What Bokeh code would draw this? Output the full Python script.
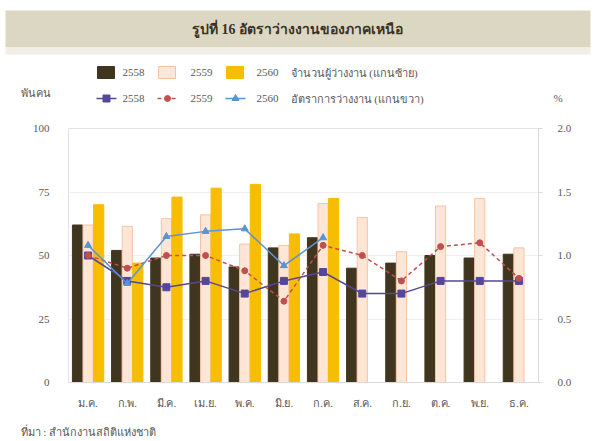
from bokeh.plotting import figure
from bokeh.layouts import column
from bokeh.models import (FactorRange, Range1d, LinearAxis, ColumnDataSource,
                          FixedTicker, NumeralTickFormatter)
from bokeh.core.properties import value
from bokeh.transform import dodge
from bokeh.embed import file_html
from bokeh.resources import INLINE

months = ["ม.ค.", "ก.พ.", "มี.ค.", "เม.ย.", "พ.ค.", "มิ.ย.",
          "ก.ค.", "ส.ค.", "ก.ย.", "ต.ค.", "พ.ย.", "ธ.ค."]

# unemployed persons (thousand) - left axis
emp_2558 = [62, 52, 49, 50.5, 45.5, 53, 57, 45, 47, 50, 49, 50.5]
emp_2559 = [62, 61.5, 64.5, 66, 54.5, 54, 70.5, 65, 51.5, 69.5, 72.5, 53]
emp_2560 = [70, 47, 73, 76.5, 78, 58.5, 72.5]

# unemployment rate (%) - right axis
rate_2558 = [1.0, 0.8, 0.75, 0.8, 0.7, 0.8, 0.87, 0.7, 0.7, 0.8, 0.8, 0.8]
rate_2559 = [1.0, 0.9, 1.0, 1.0, 0.88, 0.64, 1.08, 1.0, 0.8, 1.07, 1.1, 0.82]
rate_2560 = [1.08, 0.78, 1.15, 1.19, 1.21, 0.92, 1.14]

years = ["2558", "2559", "2560"]
left_ticks = [0, 25, 50, 75, 100]
right_ticks = [0, 0.5, 1.0, 1.5, 2.0]

FONT = "Liberation Serif"
TXT = "#595959"
C58 = "#40361f"
C59F = "#fde6d6"
C59L = "#f3c3a5"
C60 = "#f7bd00"
L58 = "#54479a"
L59 = "#c0504d"
L60 = "#5b93d3"
W = 596


def no_align(f):
    if "frame_align" in f.properties():
        f.frame_align = False


def blank(h):
    f = figure(width=W, height=h, x_range=Range1d(0, W), y_range=Range1d(h, 0),
               output_backend="svg", toolbar_location=None,
               x_axis_type=None, y_axis_type=None, min_border=0)
    f.grid.visible = False
    f.outline_line_color = None
    f.background_fill_color = "white"
    f.border_fill_color = "white"
    no_align(f)
    return f


# ---------------- header: title band and legend ----------------
H1 = 120
hd = blank(H1)
hd.quad(left=5, right=590, top=10, bottom=47, fill_color="#dcd7c3", line_color=None)
hd.quad(left=5, right=590, top=47, bottom=54, fill_color="#f1eee6", line_color=None)
hd.text(x=[297], y=[29], text=["รูปที่ 16 อัตราว่างงานของภาคเหนือ"],
        text_align="center", text_baseline="middle", text_font=value(FONT),
        text_font_size="14px", text_font_style="bold", text_color="#3b3222")

row1, row2 = 72, 98
sw_x = [97, 158, 226]
lab_x = [122, 190, 256]
bar_fill = [C58, C59F, C60]
bar_line = [C58, C59L, C60]
for i in range(3):
    hd.quad(left=sw_x[i], right=sw_x[i] + 17, top=row1 - 6, bottom=row1 + 6,
            fill_color=bar_fill[i], line_color=bar_line[i])
    hd.text(x=[lab_x[i]], y=[row1], text=[years[i]], text_baseline="middle",
            text_font=value(FONT), text_font_size="11px", text_color=TXT)
line_cols = [L58, L59, L60]
dashes = ["solid", "4 3", "solid"]
marks = ["square", "circle", "triangle"]
msz = [7, 6, 7]
for i in range(3):
    hd.line(x=[sw_x[i] - 1, sw_x[i] + 19], y=[row2, row2], line_color=line_cols[i],
            line_width=1.5, line_dash=dashes[i])
    hd.scatter(x=[sw_x[i] + 9], y=[row2], marker=marks[i], size=msz[i],
               fill_color=line_cols[i], line_color=line_cols[i])
    hd.text(x=[lab_x[i]], y=[row2], text=[years[i]], text_baseline="middle",
            text_font=value(FONT), text_font_size="11px", text_color=TXT)
hd.text(x=[290, 290], y=[row1, row2],
        text=["จำนวนผู้ว่างงาน (แกนซ้าย)", "อัตราการว่างงาน (แกนขวา)"],
        text_baseline="middle", text_font=value(FONT), text_font_size="11px",
        text_color=TXT)
hd.text(x=[20], y=[92], text=["พันคน"], text_baseline="middle",
        text_font=value(FONT), text_font_size="11px", text_color=TXT)
hd.text(x=[553], y=[97], text=["%"], text_baseline="middle",
        text_font=value(FONT), text_font_size="11px", text_color=TXT)

# ---------------- main chart ----------------
s58 = ColumnDataSource(dict(m=months, v=emp_2558, r=rate_2558))
s59 = ColumnDataSource(dict(m=months, v=emp_2559, r=rate_2559))
s60 = ColumnDataSource(dict(m=months[:len(emp_2560)], v=emp_2560, r=rate_2560))

p = figure(width=W, height=292, x_range=FactorRange(*months),
           y_range=Range1d(0, 100), output_backend="svg", toolbar_location=None,
           min_border_left=68, min_border_right=58, min_border_top=8,
           min_border_bottom=30)
no_align(p)
p.extra_y_ranges = {"rate": Range1d(0, 2)}
p.background_fill_color = "white"
p.border_fill_color = "white"
p.outline_line_color = "#e3e3e3"
p.xgrid.grid_line_color = None
p.ygrid.grid_line_color = "#f0f0f0"
p.ygrid.ticker = FixedTicker(ticks=left_ticks)

ya = p.yaxis[0]
ya.ticker = FixedTicker(ticks=left_ticks)
ya.axis_line_color = None
ya.major_tick_line_color = None
ya.minor_tick_line_color = None
ya.major_label_standoff = 13
ya.major_label_text_font = FONT
ya.major_label_text_font_size = "11px"
ya.major_label_text_color = TXT

xa = p.xaxis[0]
xa.axis_line_color = "#d9d9d9"
xa.major_tick_line_color = None
xa.major_label_standoff = 8
xa.major_label_text_font = FONT
xa.major_label_text_font_size = "11px"
xa.major_label_text_color = TXT

ra = LinearAxis(y_range_name="rate", ticker=FixedTicker(ticks=right_ticks),
                formatter=NumeralTickFormatter(format="0.0"))
ra.axis_line_color = "#d9d9d9"
ra.major_tick_line_color = "#d9d9d9"
ra.major_tick_out = 4
ra.major_tick_in = 0
ra.minor_tick_line_color = None
ra.major_label_standoff = 15
ra.major_label_text_font = FONT
ra.major_label_text_font_size = "11px"
ra.major_label_text_color = TXT
p.add_layout(ra, "right")

bw = 0.26
p.vbar(x=dodge("m", -0.27, range=p.x_range), top="v", width=bw, source=s58,
       fill_color=C58, line_color=C58)
p.vbar(x=dodge("m", 0.0, range=p.x_range), top="v", width=bw, source=s59,
       fill_color=C59F, line_color=C59L, line_width=1)
p.vbar(x=dodge("m", 0.27, range=p.x_range), top="v", width=bw, source=s60,
       fill_color=C60, line_color=C60)

for src, col, dash, mk, sz in [(s58, L58, "solid", "square", 7),
                               (s59, L59, "4 3", "circle", 6),
                               (s60, L60, "solid", "triangle", 7)]:
    p.line(x="m", y="r", source=src, y_range_name="rate", line_color=col,
           line_width=1.5, line_dash=dash)
    p.scatter(x="m", y="r", source=src, y_range_name="rate", marker=mk, size=sz,
              fill_color=col, line_color=col)

# ---------------- footer: source ----------------
H3 = 29
ft = blank(H3)
ft.text(x=[20], y=[19], text=["ที่มา : สำนักงานสถิติแห่งชาติ"], text_baseline="middle",
        text_font=value(FONT), text_font_size="11px", text_color=TXT)

layout = column(hd, p, ft, spacing=0)
open("out.html", "w").write(file_html(layout, INLINE))
